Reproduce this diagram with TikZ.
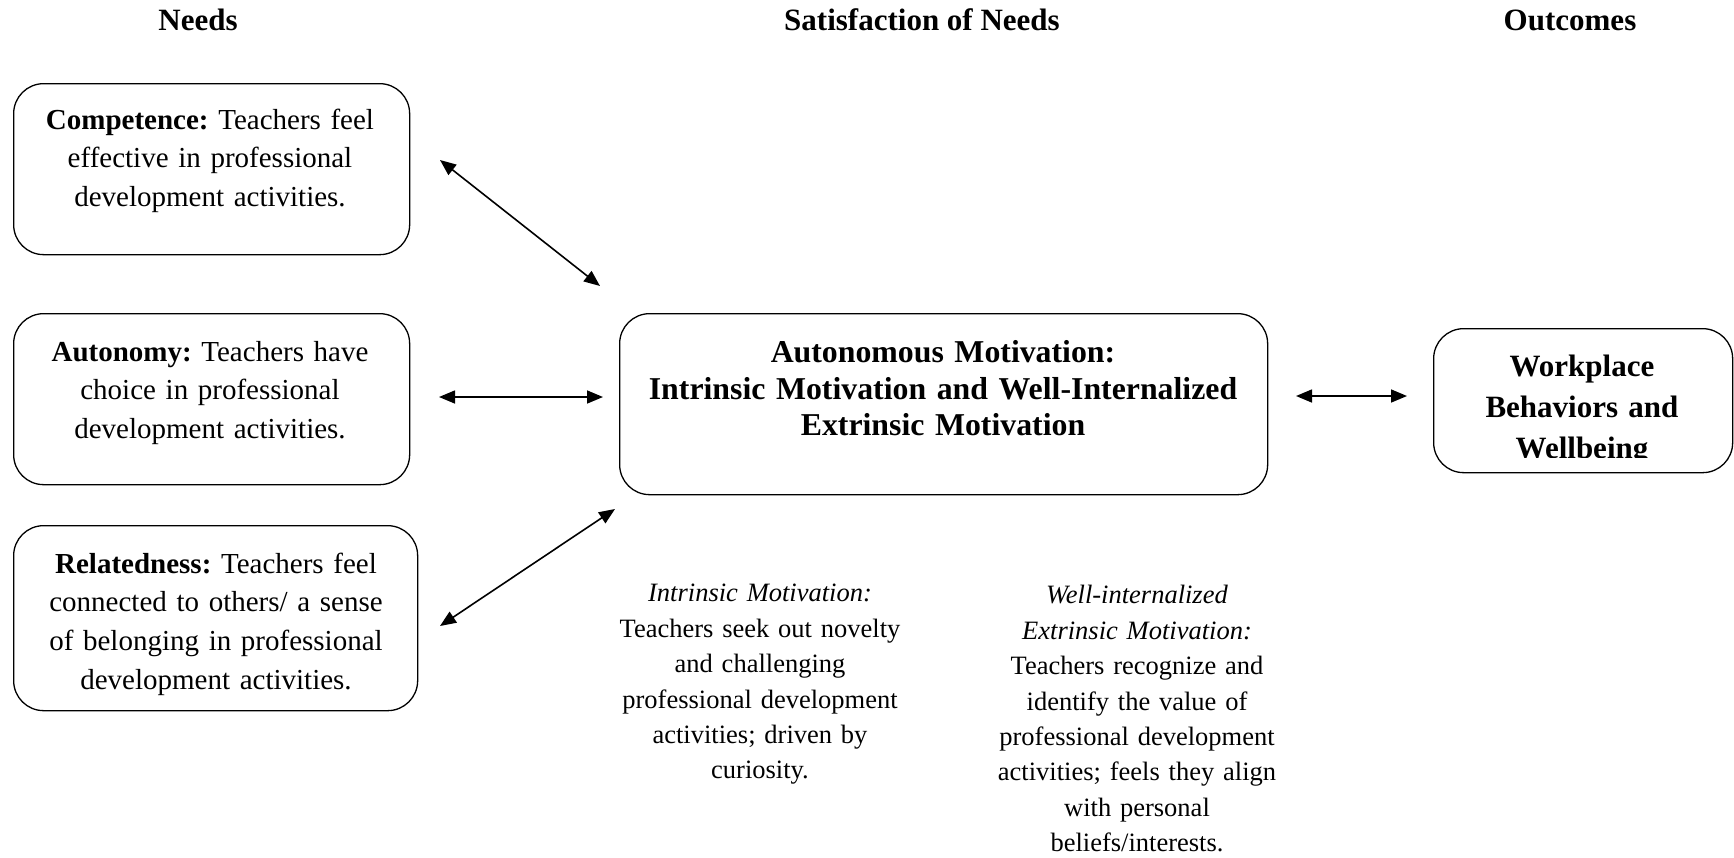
\documentclass[tikz,border=0pt]{standalone}
\usepackage{fontspec}
\setmainfont{Liberation Serif}
\usetikzlibrary{arrows.meta}
\frenchspacing
\begin{document}
\begin{tikzpicture}[x=1pt,y=-1pt,
  box/.style={draw, line width=1.3pt, rounded corners=30pt, inner sep=0pt, anchor=north west},
  boxtext/.style={align=center, inner sep=0pt, anchor=north, text width=420pt,
    font=\fontsize{29}{38.7}\selectfont, execute at begin node=\strut},
  centertext/.style={align=center, inner sep=0pt, anchor=north, text width=640pt,
    font=\fontsize{31.8}{36.5}\selectfont\bfseries, execute at begin node=\strut},
  worktext/.style={align=center, inner sep=0pt, anchor=north, text width=290pt,
    font=\fontsize{31}{41}\selectfont\bfseries, execute at begin node=\strut},
  lowtext/.style={align=center, inner sep=0pt, anchor=north, text width=300pt,
    font=\fontsize{26.5}{35.4}\selectfont, execute at begin node=\strut},
  header/.style={inner sep=0pt, anchor=base, font=\fontsize{31}{36}\selectfont\bfseries},
  arr/.style={line width=1.6pt, {Triangle[length=16pt,width=13pt]}-{Triangle[length=16pt,width=13pt]}}
]
\useasboundingbox (0,0) rectangle (1734,857);

% headers
\node[header] (hNeeds) at (198,30) {Needs};
\node[header] (hSat) at (922,30) {Satisfaction of Needs};
\node[header] (hOut) at (1570,30) {Outcomes};

% need boxes
\node[box, minimum width=396pt, minimum height=171pt] (comp) at (13,83) {};
\node[boxtext] (compT) at (210,102) {\textbf{Competence:} Teachers feel\\effective in professional\\development activities.};

\node[box, minimum width=396pt, minimum height=171pt] (auto) at (13,313) {};
\node[boxtext] (autoT) at (210,334) {\textbf{Autonomy:} Teachers have\\choice in professional\\development activities.};

\node[box, minimum width=404pt, minimum height=185pt] (rel) at (13,525) {};
\node[boxtext] (relT) at (216,546) {\textbf{Relatedness:} Teachers feel\\connected to others/ a sense\\of belonging in professional\\development activities.};

% center box
\node[box, minimum width=648pt, minimum height=181pt] (mot) at (619,313) {};
\node[centertext] (motT) at (943,337) {Autonomous Motivation:\\Intrinsic Motivation and Well-Internalized\\Extrinsic Motivation};

% outcome box
\node[box, minimum width=299pt, minimum height=144pt] (work) at (1433,328) {};
\begin{scope}
\clip (1433,328) rectangle (1734,457);
\node[worktext] (workT) at (1582,348) {Workplace\\Behaviors and\\Wellbeing};
\end{scope}

% lower texts
\node[lowtext] (intr) at (760,577) {\textit{Intrinsic Motivation:}\\Teachers seek out novelty\\and challenging\\professional development\\activities; driven by\\curiosity.};
\node[lowtext] (extr) at (1137,579) {\textit{Well-internalized}\\\textit{Extrinsic Motivation:}\\Teachers recognize and\\identify the value of\\professional development\\activities; feels they align\\with personal\\beliefs/interests.};

% arrow end points
\coordinate (a1s) at (440,160);
\coordinate (a1e) at (600,286);
\coordinate (a2s) at (439,397);
\coordinate (a2e) at (603,397);
\coordinate (a3s) at (440,626);
\coordinate (a3e) at (615,509);
\coordinate (a4s) at (1296,396);
\coordinate (a4e) at (1407,396);

\draw[arr] (a1s) -- (a1e);
\draw[arr] (a2s) -- (a2e);
\draw[arr] (a3s) -- (a3e);
\draw[arr] (a4s) -- (a4e);
\end{tikzpicture}
\end{document}
